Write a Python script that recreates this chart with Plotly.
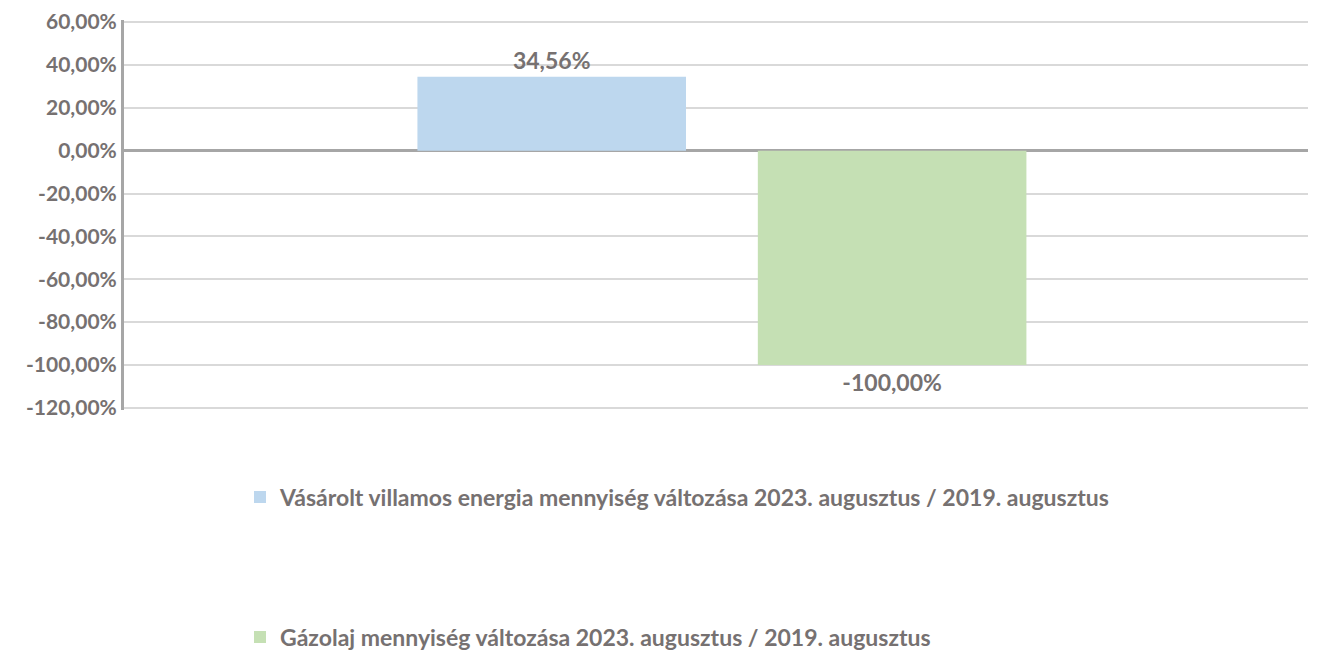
import plotly.graph_objects as go

categories = [""]
series_names = [
    "Vásárolt villamos energia mennyiség változása 2023. augusztus / 2019. augusztus",
    "Gázolaj mennyiség változása 2023. augusztus / 2019. augusztus",
]
series_values = [[0.3456], [-1.0]]
series_colors = ["#BDD7EE", "#C5E0B4"]
tick_values = [-1.2, -1.0, -0.8, -0.6, -0.4, -0.2, 0.0, 0.2, 0.4, 0.6]
tick_labels = ["-120,00%", "-100,00%", "-80,00%", "-60,00%", "-40,00%",
               "-20,00%", "0,00%", "20,00%", "40,00%", "60,00%"]

text_color = "#767171"
font_family = "Lato"

# the page body has a small default margin; the figure is sized to fit inside it
W, H = 1313, 642

fig = go.Figure()
legend_names = ["legend", "legend2"]
for name, vals, col, lg in zip(series_names, series_values, series_colors, legend_names):
    fig.add_trace(go.Bar(
        x=categories, y=vals, name=name, marker_color=col,
        marker_line_width=0,
        texttemplate="%{y:.2%}", textposition="outside",
        textfont=dict(family=font_family, size=23, color=text_color, weight="bold"),
        cliponaxis=False, legend=lg, showlegend=True,
    ))

legend_common = dict(
    font=dict(family=font_family, size=23, color=text_color, weight="bold"),
    xanchor="left", yanchor="middle", bgcolor="rgba(0,0,0,0)",
    itemwidth=30, xref="container", yref="container",
)
fig.update_layout(
    width=W, height=H,
    margin=dict(l=116, r=13, t=12, b=240, autoexpand=False),
    paper_bgcolor="white", plot_bgcolor="white",
    showlegend=True,
    barmode="group", bargap=0.425, bargroupgap=0.211,
    separators=",.",
    font=dict(family=font_family, color=text_color),
    legend=dict(x=232 / W, y=1 - 489 / H, **legend_common),
    legend2=dict(x=232 / W, y=1 - 629 / H, **legend_common),
    xaxis=dict(showticklabels=False, showgrid=False, showline=False, zeroline=False,
               range=[-0.505, 0.495]),
    yaxis=dict(
        range=[-1.21, 0.61], tickmode="array", tickvals=tick_values, ticktext=tick_labels,
        tickfont=dict(family=font_family, size=21, color=text_color, weight="bold"),
        ticklabeloverflow="allow",
        showgrid=True, gridcolor="#D9D9D9", gridwidth=1.5,
        showline=True, linecolor="#A6A6A6", linewidth=3,
        zeroline=True, zerolinecolor="#A6A6A6", zerolinewidth=2.5,
        ticks="", ticklen=0, automargin=False,
    ),
)

fig.write_html("out.html")
